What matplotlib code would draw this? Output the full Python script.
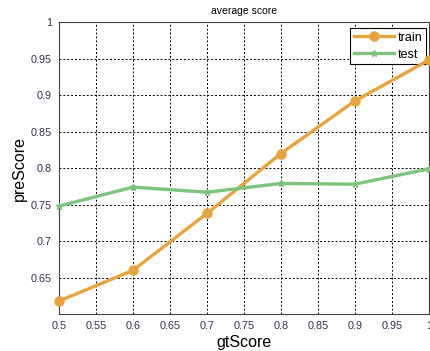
import matplotlib
matplotlib.use('Agg')
import matplotlib.pyplot as plt

plt.rcParams['font.family'] = ['Liberation Sans', 'DejaVu Sans']

gt_score = [0.5, 0.6, 0.7, 0.8, 0.9, 1.0]
train = [0.618, 0.660, 0.738, 0.820, 0.892, 0.948]
test = [0.748, 0.774, 0.767, 0.779, 0.778, 0.799]

xticks = [0.5, 0.55, 0.6, 0.65, 0.7, 0.75, 0.8, 0.85, 0.9, 0.95, 1]
xlabels = ['0.5', '0.55', '0.6', '0.65', '0.7', '0.75', '0.8', '0.85', '0.9', '0.95', '1']
yticks = [0.65, 0.7, 0.75, 0.8, 0.85, 0.9, 0.95, 1]
ylabels = ['0.65', '0.7', '0.75', '0.8', '0.85', '0.9', '0.95', '1']

fig = plt.figure(figsize=(4.31, 3.51), dpi=100)
ax = fig.add_axes([0.137, 0.105, 0.858, 0.832])

ax.plot(gt_score, train, '-o', color='#E8A33D', lw=2.4, ms=6.5, label='train', clip_on=False, zorder=6)
ax.plot(gt_score, test, '-*', color='#7DC47D', lw=2.4, ms=4.5, label='test', clip_on=False, zorder=6)

ax.set_xlim(0.5, 1.0)
ax.set_ylim(0.6, 1.0)
ax.set_xticks(xticks)
ax.set_xticklabels(xlabels)
ax.set_yticks(yticks)
ax.set_yticklabels(ylabels)
ax.tick_params(direction='in', labelsize=7.8, colors='#303050', length=0, pad=5)
ax.grid(True, ls=(0, (2, 2)), color='black', lw=0.7)
for s in ax.spines.values():
    s.set_color('#404040')

ax.set_title('average score', fontsize=7.5, pad=6)
ax.set_xlabel('gtScore', fontsize=11.5, labelpad=3)
ax.set_ylabel('preScore', fontsize=11.5, labelpad=3)

leg = ax.legend(loc='upper right', fontsize=9, fancybox=False, framealpha=1,
                edgecolor='black', handlelength=3.2, borderpad=0.3, labelspacing=0.4,
                handletextpad=0.3, borderaxespad=0.0, bbox_to_anchor=(0.993, 0.98))
leg.get_frame().set_linewidth(0.8)
leg.set_zorder(5)

fig.savefig('out.png', dpi=100)
